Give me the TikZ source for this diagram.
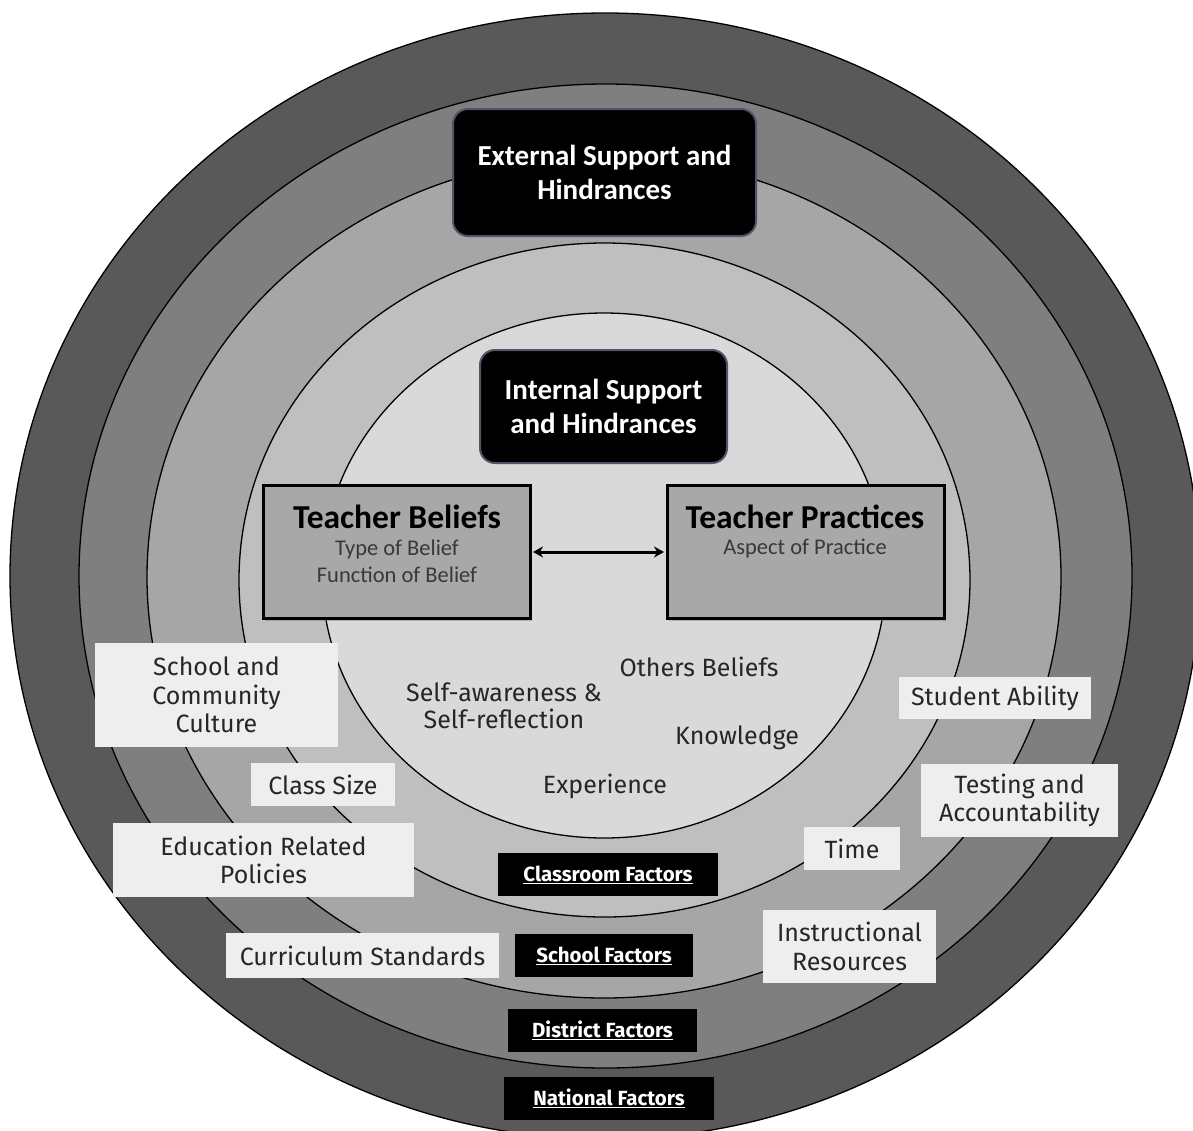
\documentclass[tikz,border=0pt]{standalone}
\usepackage{fontspec}
\setmainfont{Fira Sans}
\newfontfamily\calfont{Carlito}
\usetikzlibrary{arrows.meta,shadows}
\definecolor{ringA}{HTML}{595959}
\definecolor{ringB}{HTML}{7F7F7F}
\definecolor{ringC}{HTML}{A6A6A6}
\definecolor{ringD}{HTML}{BFBFBF}
\definecolor{ringE}{HTML}{D9D9D9}
\definecolor{tboxfill}{HTML}{A8A8A8}
\definecolor{labfill}{HTML}{EEEEEE}
\definecolor{labtext}{HTML}{262626}
\definecolor{subtext}{HTML}{383838}
\definecolor{darkedge}{HTML}{4F5668}
\tikzset{
  ring/.style={draw=black, line width=1.3pt},
  darkbox/.style={fill=black, draw=darkedge, line width=2pt, rounded corners=15pt,
    text=white, align=center, inner sep=0pt,
    font=\calfont\bfseries\fontsize{29}{34}\selectfont},
  factor/.style={fill=black, text=white, inner sep=0pt, minimum height=43pt,
    font=\bfseries\fontsize{20.5}{24}\selectfont},
  lab/.style={fill=labfill, text=labtext, align=center, inner sep=0pt,
    font=\fontsize{25}{28.5}\selectfont},
  free/.style={text=labtext, align=center, inner sep=0pt,
    font=\fontsize{25}{27}\selectfont},
  tbox/.style={fill=tboxfill, draw=black, line width=3pt, inner sep=0pt,
    minimum height=133pt,
    drop shadow={shadow xshift=2pt, shadow yshift=-2pt, opacity=0.45}},
  ttitle/.style={text=black, inner sep=0pt, font=\calfont\bfseries\fontsize{33.5}{38}\selectfont},
  tsub/.style={text=subtext, inner sep=0pt, align=center, font=\calfont\fontsize{22.5}{26}\selectfont}
}
\begin{document}
\begin{tikzpicture}[x=1pt,y=-1pt]
\useasboundingbox (0,0) rectangle (1193,1130);
\fill[white] (0,0) rectangle (1193,1130);
\begin{scope}
\clip (0,0) rectangle (1193,1130);
\path[ring, fill=ringA] (605,576) ellipse [x radius=595pt, y radius=563pt];
\path[ring, fill=ringB] (605.5,576) ellipse [x radius=526.5pt, y radius=492pt];
\path[ring, fill=ringC] (604,577) ellipse [x radius=457pt, y radius=421pt];
\path[ring, fill=ringD] (604.5,580) ellipse [x radius=365.5pt, y radius=337pt];
\path[ring, fill=ringE] (604,575.5) ellipse [x radius=282pt, y radius=262.5pt];
\end{scope}

% headline boxes
\node[darkbox, minimum width=303pt, minimum height=127pt] (ext) at (604.5,172.5)
  {External Support and\\Hindrances};
\node[darkbox, minimum width=247pt, minimum height=113pt] (int) at (603.5,406.5)
  {Internal Support\\and Hindrances};

% teacher boxes
\node[tbox, minimum width=267pt] (tb) at (396.5,552) {};
\node[tbox, minimum width=277pt] (tp) at (805.5,552) {};
\node[ttitle] (tbt) at (397,517) {Teacher Beliefs};
\node[tsub] (tbs1) at (397,549) {Type of Belief};
\node[tsub] (tbs2) at (397,575) {Function of Belief};
\node[ttitle] (tpt) at (805,517) {Teacher Practices};
\node[tsub] (tps1) at (805,549) {Aspect of Practice};
\draw[{Stealth[length=10pt,width=11pt]}-{Stealth[length=10pt,width=11pt]}, line width=3pt]
  ([xshift=1.5pt]tb.east) -- ([xshift=-1.5pt]tp.west);

% inner ellipse labels
\node[free] (ob) at (699,667) {Others Beliefs};
\node[free] (sa) at (504,706) {Self-awareness \&\\Self-reflection};
\node[free] (kn) at (737,738) {Knowledge};
\node[free] (ex) at (605,786) {Experience};

% light factor labels
\node[lab, minimum width=243pt, minimum height=104pt] (scc) at (216.5,695) {School and\\Community\\Culture};
\node[lab, minimum width=144pt, minimum height=43pt] (cs) at (323,784.5) {Class Size};
\node[lab, minimum width=301pt, minimum height=74pt] (erp) at (263.5,860) {Education Related\\Policies};
\node[lab, minimum width=273pt, minimum height=45pt] (cst) at (362.5,955.5) {Curriculum Standards};
\node[lab, minimum width=192pt, minimum height=42pt] (sab) at (995,698) {Student Ability};
\node[lab, minimum width=197pt, minimum height=73pt] (ta) at (1019.5,800.5) {Testing and\\Accountability};
\node[lab, minimum width=96pt, minimum height=43pt] (ti) at (852,848.5) {Time};
\node[lab, minimum width=173pt, minimum height=73pt] (ir) at (849.5,946.5) {Instructional\\Resources};

% level boxes
\node[factor, minimum width=220pt] (clf) at (608,874.5) {\underline{Classroom Factors}};
\node[factor, minimum width=178pt] (scf) at (604,955.5) {\underline{School Factors}};
\node[factor, minimum width=189pt] (dif) at (602.5,1030.5) {\underline{District Factors}};
\node[factor, minimum width=210pt] (naf) at (609,1098.5) {\underline{National Factors}};
\end{tikzpicture}
\end{document}
